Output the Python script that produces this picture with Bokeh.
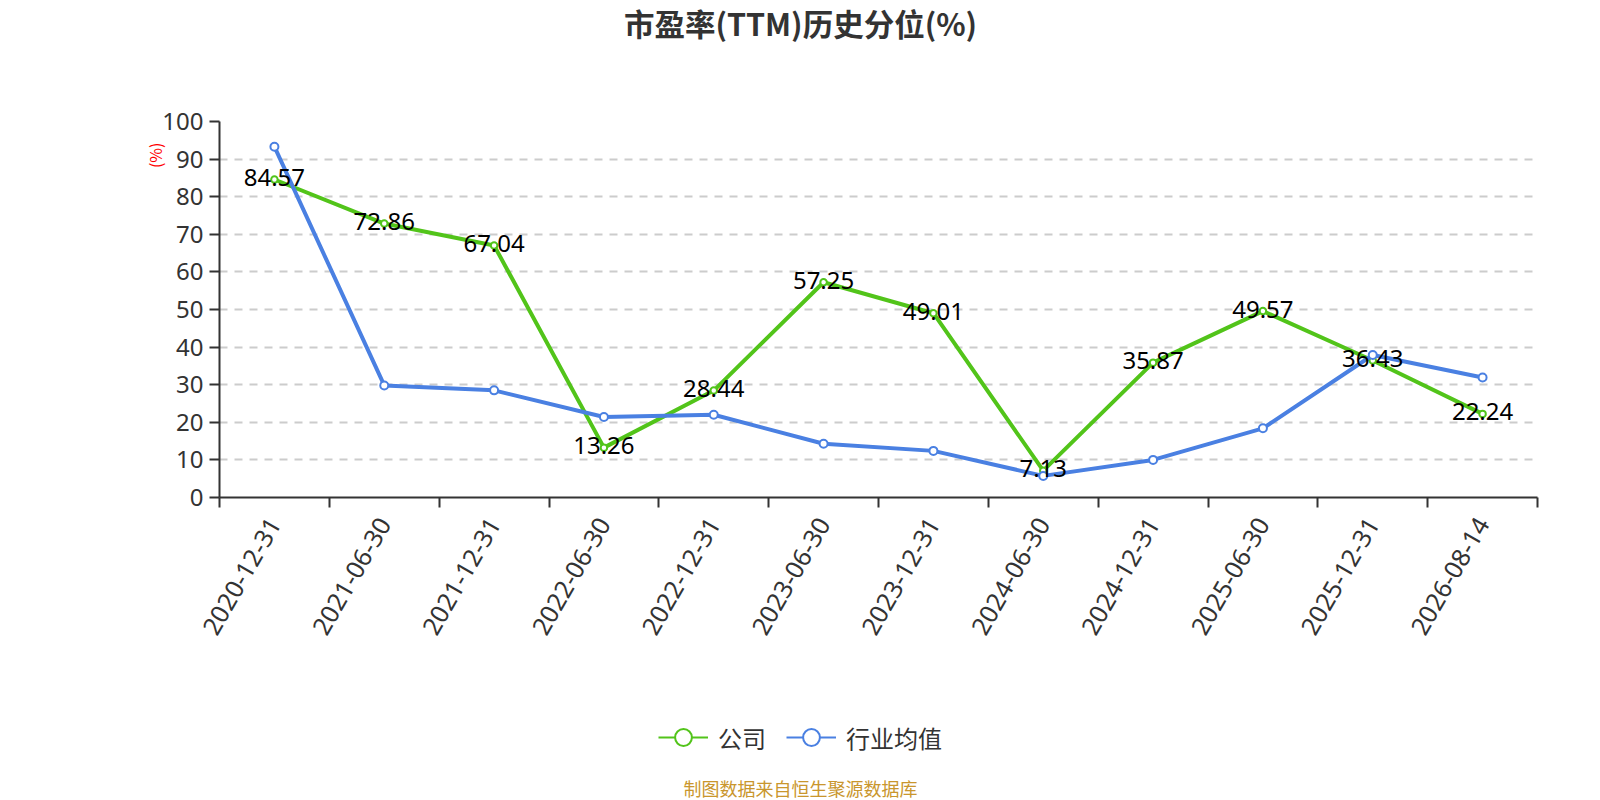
import math
import numpy as np
from bokeh.plotting import figure
from bokeh.layouts import column
from bokeh.models import (ColumnDataSource, Range1d, FixedTicker, CustomJSTickFormatter,
                          Legend, LegendItem, LabelSet, Label, Title)
from bokeh.core.properties import value
from bokeh.embed import file_html
from bokeh.resources import INLINE

# ---- data ----
dates = ["2020-12-31", "2021-06-30", "2021-12-31", "2022-06-30", "2022-12-31", "2023-06-30",
         "2023-12-31", "2024-06-30", "2024-12-31", "2025-06-30", "2025-12-31", "2026-08-14"]
company = [84.57, 72.86, 67.04, 13.26, 28.44, 57.25, 49.01, 7.13, 35.87, 49.57, 36.43, 22.24]
industry = [93.3, 29.8, 28.5, 21.4, 22.0, 14.3, 12.4, 5.75, 10.0, 18.4, 37.9, 31.9]
y_ticks = list(range(0, 101, 10))
title_text = "市盈率(TTM)历史分位(%)"
series_names = ["公司", "行业均值"]
y_unit = "(%)"
footer_text = "制图数据来自恒生聚源数据库"

CJK = "Noto Sans CJK SC"
LAT = "Noto Sans"
GREEN = "#52c41a"
BLUE = "#4a80e2"
AXIS = "#333333"
W = 1600
TOP_H, BOT_H = 60, 153
FRAME_LEFT = 219          # strips share the main chart's frame alignment
CX = 800 - FRAME_LEFT     # page centre, relative to the frame's left edge


def blank_fig(h):
    f = figure(width=W, height=h, x_range=Range1d(0, 1), y_range=Range1d(0, 1),
               x_axis_type=None, y_axis_type=None, min_border=0,
               output_backend="svg", toolbar_location=None)
    f.outline_line_color = None
    f.grid.visible = False
    f.background_fill_color = "white"
    f.border_fill_color = "white"
    return f


# ---- top strip: title ----
top = blank_fig(TOP_H)
top.add_layout(Label(x=CX, y=TOP_H - 22, x_units="screen", y_units="screen", text=title_text,
                     text_align="center", text_baseline="middle", text_font=CJK,
                     text_font_size="30.5px", text_font_style="bold", text_color=AXIS))

# ---- main chart ----
n = len(dates)
xs = np.arange(n)
src_c = ColumnDataSource(dict(x=xs, y=company, label=[f"{v:.2f}" for v in company]))
src_i = ColumnDataSource(dict(x=xs, y=industry))

p = figure(width=W, height=61 + 376 + 150, frame_width=1318, frame_height=376,
           min_border_left=FRAME_LEFT, min_border_top=61, min_border_right=63, min_border_bottom=150,
           x_range=Range1d(-0.5, n - 0.5), y_range=Range1d(0, 100),
           output_backend="svg", toolbar_location=None)
p.outline_line_color = None
p.background_fill_color = "white"
p.border_fill_color = "white"

xa = p.xaxis[0]
xa.ticker = FixedTicker(ticks=list(xs), minor_ticks=list(np.arange(n + 1) - 0.5))
xa.formatter = CustomJSTickFormatter(args=dict(labels=dates),
                                     code="const i = Math.round(tick); return (i >= 0 && i < labels.length) ? labels[i] : '';")
xa.major_tick_out = 0
xa.major_tick_in = 0
xa.minor_tick_out = 10
xa.minor_tick_in = 0
xa.minor_tick_line_color = AXIS
xa.minor_tick_line_width = 2
xa.axis_line_color = AXIS
xa.axis_line_width = 2
xa.major_label_orientation = math.pi / 3
xa.major_label_standoff = 12
xa.major_label_text_font = LAT
xa.major_label_text_font_size = "25px"
xa.major_label_text_color = AXIS

ya = p.yaxis[0]
ya.ticker = FixedTicker(ticks=y_ticks)
ya.major_tick_out = 10
ya.major_tick_in = 0
ya.major_tick_line_color = AXIS
ya.major_tick_line_width = 2
ya.minor_tick_out = 0
ya.minor_tick_in = 0
ya.axis_line_color = AXIS
ya.axis_line_width = 2
ya.major_label_standoff = 6
ya.major_label_text_font = LAT
ya.major_label_text_font_size = "24px"
ya.major_label_text_color = AXIS

p.xgrid.visible = False
p.ygrid.ticker = FixedTicker(ticks=y_ticks[1:])
p.ygrid.grid_line_color = "#cccccc"
p.ygrid.grid_line_width = 2
p.ygrid.grid_line_dash = "8 7"

p.line("x", "y", source=src_c, line_color=GREEN, line_width=4)
p.scatter("x", "y", source=src_c, size=6.5, fill_color="white", line_color=GREEN, line_width=2)
p.line("x", "y", source=src_i, line_color=BLUE, line_width=4)
p.scatter("x", "y", source=src_i, size=8, fill_color="white", line_color=BLUE, line_width=2)

p.add_layout(LabelSet(x="x", y="y", text="label", source=src_c, text_align="center",
                      text_baseline="middle", y_offset=2, text_font=value(LAT),
                      text_font_size=value("24px"), text_color="#000000"))

# y unit label, left of the axis near its top
p.add_layout(Title(text=y_unit, align="right", offset=21, vertical_align="middle",
                   text_font=CJK, text_font_size="16px", text_font_style="normal",
                   text_color="#ff0000", standoff=-16), "left")

# ---- bottom strip: legend and source note ----
bot = blank_fig(BOT_H)
nan_src = ColumnDataSource(dict(x=[np.nan], y=[np.nan]))
lg_gl = bot.line("x", "y", source=nan_src, line_color=GREEN, line_width=2)
lg_gs = bot.scatter("x", "y", source=nan_src, fill_color="white", line_color=GREEN, line_width=2)
lg_bl = bot.line("x", "y", source=nan_src, line_color=BLUE, line_width=2)
lg_bs = bot.scatter("x", "y", source=nan_src, fill_color="white", line_color=BLUE, line_width=2)
legend = Legend(items=[LegendItem(label=series_names[0], renderers=[lg_gl, lg_gs]),
                       LegendItem(label=series_names[1], renderers=[lg_bl, lg_bs])],
                orientation="horizontal", location=(658 - FRAME_LEFT, 42),
                glyph_width=50, glyph_height=42, label_height=42, label_standoff=10,
                spacing=20, padding=0, margin=0, border_line_color=None,
                background_fill_alpha=0, label_text_font=CJK,
                label_text_font_size="24px", label_text_color=AXIS)
bot.add_layout(legend, "center")
bot.add_layout(Label(x=CX, y=13, x_units="screen", y_units="screen", text=footer_text,
                     text_align="center", text_baseline="middle", text_font=CJK,
                     text_font_size="18px", text_color="#c9962d"))

layout = column(top, p, bot, spacing=0)
open("out.html", "w").write(file_html(layout, INLINE))
